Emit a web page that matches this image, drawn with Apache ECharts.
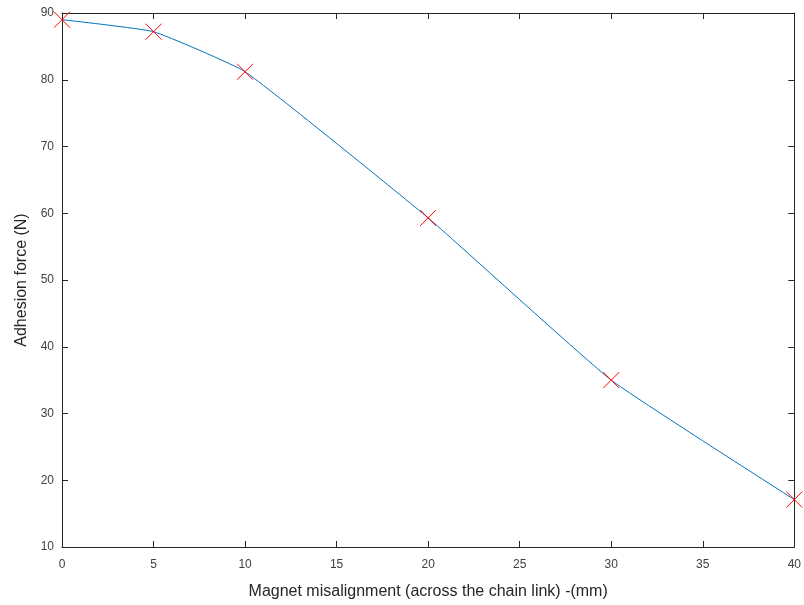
<!DOCTYPE html>
<html><head><meta charset="utf-8">
<script src="https://cdn.jsdelivr.net/npm/echarts@6/dist/echarts.min.js"></script>
<style>html,body{margin:0;padding:0;background:#fff;overflow:hidden}#c{width:804px;height:605px}</style>
</head><body><div id="c"></div>
<script>
const misalignment = [0, 5, 10, 20, 30, 40];
const adhesionForce = [89.0, 87.2, 81.2, 59.3, 35.0, 17.1];
const xTicks = [0, 5, 10, 15, 20, 25, 30, 35, 40];
const yTicks = [10, 20, 30, 40, 50, 60, 70, 80, 90];

const pts = misalignment.map((x, i) => [x, adhesionForce[i]]);
const chart = echarts.init(document.getElementById('c'), null, {renderer: 'canvas', width: 804, height: 605});
const axisCol = '#262626';
const baseX = {
  type: 'value', min: 0, max: 40, interval: 5,
  axisLine: {show: true, onZero: false, lineStyle: {color: axisCol, width: 1}},
  axisTick: {show: true, inside: true, length: 6, lineStyle: {color: axisCol}},
  splitLine: {show: false}
};
const baseY = {
  type: 'value', min: 10, max: 90, interval: 10,
  axisLine: {show: true, onZero: false, lineStyle: {color: axisCol, width: 1}},
  axisTick: {show: true, inside: true, length: 6, lineStyle: {color: axisCol}},
  splitLine: {show: false}
};
const H = 8;
chart.setOption({
  animation: false,
  grid: {left: 62, right: 6, top: 13, bottom: 55, containLabel: false},
  xAxis: [
    Object.assign({}, baseX, {
      position: 'bottom',
      name: 'Magnet misalignment (across the chain link) -(mm)',
      nameLocation: 'middle', nameGap: 37,
      nameTextStyle: {fontFamily: 'Liberation Sans', fontSize: 16, color: axisCol},
      axisLabel: {show: true, fontFamily: 'Liberation Sans', fontSize: 12, color: '#404040', margin: 12,
        formatter: v => xTicks.includes(v) ? String(v) : ''}
    }),
    Object.assign({}, baseX, {position: 'top', axisLabel: {show: false}})
  ],
  yAxis: [
    Object.assign({}, baseY, {
      position: 'left',
      name: 'Adhesion force (N)',
      nameLocation: 'middle', nameGap: 30,
      nameTextStyle: {fontFamily: 'Liberation Sans', fontSize: 16, color: axisCol},
      axisLabel: {show: true, fontFamily: 'Liberation Sans', fontSize: 12, color: '#404040', margin: 8,
        formatter: v => yTicks.includes(v) ? String(v) : ''}
    }),
    Object.assign({}, baseY, {position: 'right', axisLabel: {show: false}})
  ],
  series: [
    {
      type: 'line', data: pts, smooth: 0.12, showSymbol: false, clip: false, z: 2,
      lineStyle: {color: '#0072BD', width: 1}
    },
    {
      type: 'custom', data: pts, clip: false, z: 5,
      renderItem: function (params, api) {
        const p = api.coord([api.value(0), api.value(1)]);
        const st = {stroke: '#FF0000', lineWidth: 1, fill: null};
        return {
          type: 'group', children: [
            {type: 'line', shape: {x1: p[0] - H, y1: p[1] - H, x2: p[0] + H, y2: p[1] + H}, style: st},
            {type: 'line', shape: {x1: p[0] - H, y1: p[1] + H, x2: p[0] + H, y2: p[1] - H}, style: st}
          ]
        };
      }
    }
  ]
});
</script></body></html>
